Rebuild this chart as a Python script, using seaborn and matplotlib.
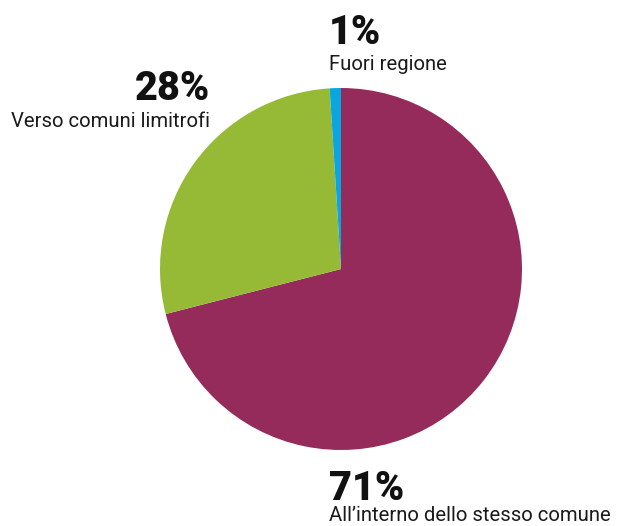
import matplotlib
matplotlib.use("Agg")
import matplotlib.pyplot as plt
import seaborn as sns

categories = ["All\u2019interno dello stesso comune", "Verso comuni limitrofi", "Fuori regione"]
values = [71, 28, 1]
pct_labels = ["71%", "28%", "1%"]
colors = ["#952B5A", "#97BA36", "#0AA6E0"]

sns.set_theme(style="white")
plt.rcParams["font.family"] = ["Roboto", "DejaVu Sans"]

W, H = 618, 526
fig = plt.figure(figsize=(W / 100, H / 100), dpi=100)
cx, cy, r = 341, 269, 181
ax = fig.add_axes([(cx - r) / W, (H - cy - r) / H, 2 * r / W, 2 * r / H])
ax.pie(values, colors=colors, startangle=90, counterclock=False, radius=1,
       wedgeprops=dict(linewidth=0))
ax.set_xlim(-1, 1)
ax.set_ylim(-1, 1)
ax.axis("off")

def px(x, y):
    return x / W, 1 - y / H

# label positions (pixel coords): (x, pct baseline, label baseline, ha)
pos = [(329, 500, 521, "left"), (210, 100, 127, "right"), (329, 44, 70, "left")]
for (x, yb1, yb2, ha), pct, cat in zip(pos, pct_labels, categories):
    fig.text(*px(x, yb1), pct, ha=ha, va="baseline", fontsize=28.5, fontweight="heavy", color="#111111")
    fig.text(*px(x, yb2), cat, ha=ha, va="baseline", fontsize=14.6, color="#1a1a1a")

fig.savefig("out.png", dpi=100)
